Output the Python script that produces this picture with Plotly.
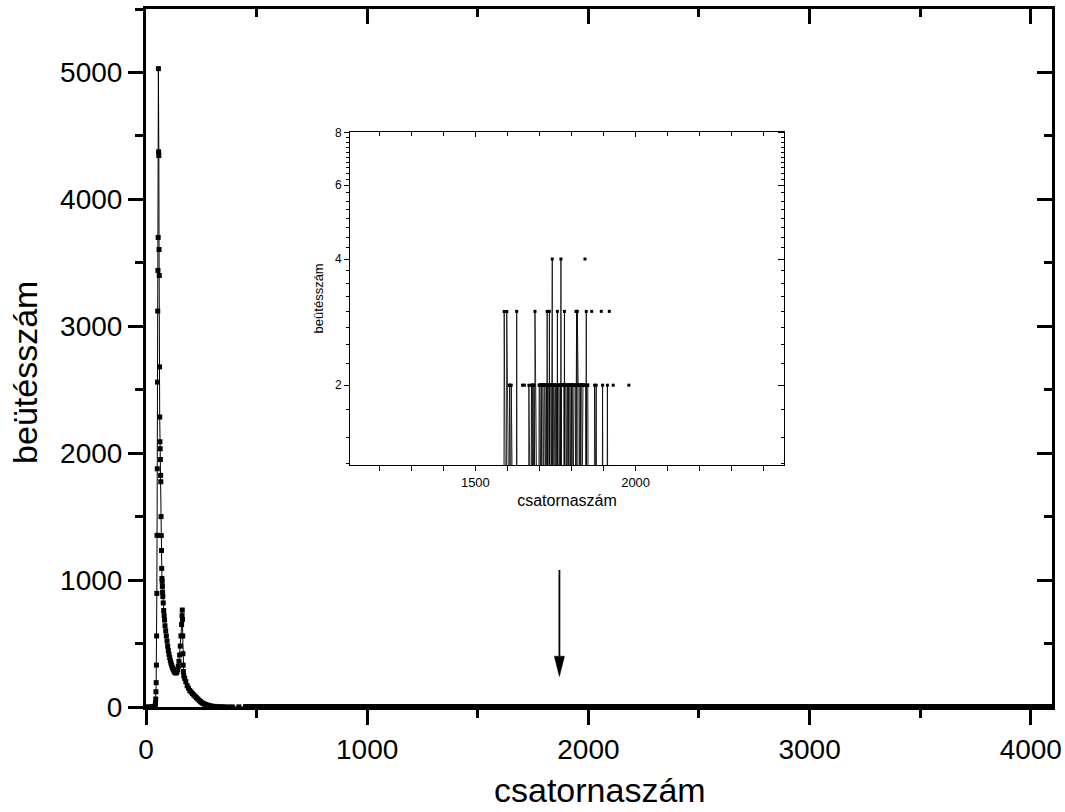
import plotly.graph_objects as go

# ---------------- data ----------------
# main peak region of the spectrum (channel -> counts)
peak_ch = [0, 10, 20, 28, 33, 36, 38, 40, 42, 43, 44, 45, 46, 47, 48, 49, 50, 51, 52,
           53, 54, 55, 56, 57, 58, 59, 60, 61, 62, 63, 64, 65, 66, 67, 68, 69, 70,
           71, 72, 73, 74, 75, 76, 78, 80, 82, 84, 86, 89, 92, 95, 98, 101, 104, 107,
           110, 113, 116, 119, 122, 125, 128, 131, 134, 137, 140, 143, 146, 149, 152,
           155, 158, 161, 163, 164, 165, 166, 167, 168, 169, 171, 175, 180, 186, 192,
           198, 204, 210, 216, 222, 228, 234, 240, 246, 252, 258, 264, 270, 277, 285,
           295, 310, 325, 337, 350, 370, 390, 420, 450]
peak_cnt = [0, 0, 0, 1, 1, 2, 3, 5, 14, 31, 63, 120, 192, 330, 560, 895, 1353, 1877, 2560,
            3120, 3440, 3700, 5030, 4375, 4345, 3605, 3400, 2680, 2285, 2090, 2035, 1950, 1825,
            1775, 1500, 1351, 1233, 1092, 1013, 990, 950, 905, 870, 820, 760, 720, 685, 640,
            600, 560, 520, 480, 445, 415, 390, 365, 345, 328, 312, 300, 290, 280, 272, 268,
            270, 278, 295, 320, 360, 410, 480, 560, 650, 720, 764, 690, 560, 420, 330, 280,
            245, 225, 200, 168, 148, 130, 117, 106, 95, 84, 73, 63, 53, 43, 35, 28, 23, 19,
            16, 12, 8, 5, 3, 2, 2, 1, 1, 1, 0]

# low-count region (used by the inset): one digit per channel, starting at channel 1580
low_start = 1580
low_counts = ("0000000001" "3111111131" "1111112211" "1121111111" "1111111113"
              "1000000000" "0000000200" "0002000000" "0000001211" "1111121212"
              "1212113111" "1111111112" "2212222122" "2212222212" "2221312222"
              "1312222122" "4122212222" "2122213122" "2212221412" "2222222131"
              "2222122221" "2212222122" "2122212222" "2221313132" "2222122212"
              "2221222222" "2040213122" "2210000000" "0003000000" "0121111210"
              "0000000000" "0003001210" "0000000000" "0121000030" "0000000000"
              "2000000000" "0000000000" "0000000000" "0000000000" "0000000002"
              "0000000000")
last_channel = 4095

x_ticks_main = [0, 1000, 2000, 3000, 4000]
y_ticks_main = [0, 1000, 2000, 3000, 4000, 5000]
inset_xticks = [1500, 2000]
inset_yticks = [2, 4, 6, 8]
inset_yminor = [1.3, 1.5, 1.75, 2.25, 2.5, 2.75, 3, 3.25, 3.5, 3.75, 4.25, 4.5, 4.75, 5,
                5.25, 5.5, 5.75, 6.2, 6.4, 6.6, 6.8, 7, 7.2, 7.4, 7.6, 7.8]

# arrow marker (data coordinates)
arrow_ch = 1869
arrow_top = 1080
arrow_tip = 240
arrow_base = 400
arrow_half = 23

# ---------------- build series ----------------
low = {low_start + i: int(c) for i, c in enumerate(low_counts)}
tail_ch = list(range(peak_ch[-1] + 1, last_channel + 1))
main_x = peak_ch + tail_ch
main_y = peak_cnt + [low.get(c, 0) for c in tail_ch]

inset_x = sorted(low.keys())
inset_y = [low[c] if low[c] > 0 else None for c in inset_x]

fig = go.Figure()
fig.add_trace(go.Scatter(
    x=main_x, y=main_y, mode="lines+markers",
    line=dict(color="black", width=1),
    marker=dict(symbol="square", size=5, color="black"),
    cliponaxis=False, xaxis="x", yaxis="y", showlegend=False, hoverinfo="skip"))
fig.add_trace(go.Scatter(
    x=inset_x, y=inset_y, mode="lines+markers", connectgaps=False,
    line=dict(color="black", width=0.8),
    marker=dict(symbol="square", size=3, color="black"),
    xaxis="x2", yaxis="y2", showlegend=False, hoverinfo="skip"))

# invisible traces so that the mirrored (inward-tick) axes are drawn
for xa, ya, yv in [("x3", "y", 0), ("x", "y3", 0), ("x4", "y2", 2), ("x2", "y4", 2)]:
    fig.add_trace(go.Scatter(x=[2000 if xa in ("x2", "x4") else 1000], y=[yv],
                             mode="markers", marker=dict(opacity=0, size=1),
                             xaxis=xa, yaxis=ya, showlegend=False, hoverinfo="skip"))

# arrow
fig.add_shape(type="line", xref="x", yref="y", x0=arrow_ch, x1=arrow_ch,
              y0=arrow_top, y1=arrow_base, line=dict(color="black", width=1.8))
fig.add_shape(type="path", xref="x", yref="y",
              path=f"M {arrow_ch - arrow_half} {arrow_base} L {arrow_ch + arrow_half} {arrow_base} "
                   f"L {arrow_ch} {arrow_tip} Z",
              fillcolor="black", line=dict(color="black", width=0.5))

font = "Arial, Liberation Sans, sans-serif"
main_common = dict(showgrid=False, zeroline=False, showline=True, linewidth=3,
                   linecolor="black", tickwidth=3, tickcolor="black", ticklen=15,
                   automargin=False)
inset_common = dict(showline=True, linewidth=1, linecolor="black", showgrid=False,
                    zeroline=False, tickwidth=1, tickcolor="black", automargin=False)

fig.update_layout(
    width=1065, height=812,
    margin=dict(l=146, r=13, t=9, b=105, autoexpand=False),
    paper_bgcolor="white", plot_bgcolor="white",
    font=dict(family=font, color="black"),
    xaxis=dict(range=[0, 4096], tickvals=x_ticks_main, ticks="outside",
               minor=dict(dtick=500, tick0=0, ticks="outside", ticklen=8, tickwidth=3,
                          tickcolor="black"),
               tickfont=dict(size=28), **main_common),
    yaxis=dict(range=[0, 5500], tickvals=y_ticks_main, ticks="outside",
               minor=dict(dtick=500, tick0=0, ticks="outside", ticklen=8, tickwidth=3,
                          tickcolor="black"),
               tickfont=dict(size=28), **main_common),
    xaxis3=dict(range=[0, 4096], overlaying="x", anchor="y", side="top",
                tickvals=x_ticks_main, ticks="inside", showticklabels=False,
                minor=dict(dtick=500, tick0=0, ticks="inside", ticklen=8, tickwidth=3,
                           tickcolor="black"), **main_common),
    yaxis3=dict(range=[0, 5500], overlaying="y", anchor="x", side="right",
                tickvals=y_ticks_main, ticks="inside", showticklabels=False,
                minor=dict(dtick=500, tick0=0, ticks="inside", ticklen=8, tickwidth=3,
                           tickcolor="black"), **main_common),
    xaxis2=dict(domain=[0.2252, 0.7042], anchor="y2", range=[1109, 2463],
                tickvals=inset_xticks, ticks="outside", ticklen=5,
                minor=dict(dtick=100, tick0=0, ticks="outside", ticklen=5, tickwidth=1,
                           tickcolor="black"),
                tickfont=dict(size=13),
                title=dict(text="csatornaszám", font=dict(size=16), standoff=6),
                **inset_common),
    yaxis2=dict(domain=[0.3467, 0.8242], anchor="x2", type="log",
                range=[0.1106, 0.9058], tickvals=inset_yticks,
                ticktext=[str(v) for v in inset_yticks],
                ticks="outside", ticklen=5,
                minor=dict(tickvals=inset_yminor, ticks="outside", ticklen=3, tickwidth=1,
                           tickcolor="black"),
                tickfont=dict(size=12),
                title=dict(text="beütésszám", font=dict(size=13), standoff=8),
                **inset_common),
    xaxis4=dict(domain=[0.2252, 0.7042], anchor="y2", overlaying="x2", side="top",
                range=[1109, 2463], tickvals=inset_xticks, ticks="inside", ticklen=5,
                showticklabels=False,
                minor=dict(dtick=100, tick0=0, ticks="inside", ticklen=4, tickwidth=1,
                           tickcolor="black"),
                **inset_common),
    yaxis4=dict(domain=[0.3467, 0.8242], anchor="x2", overlaying="y2", side="right",
                type="log", range=[0.1106, 0.9058], tickvals=inset_yticks,
                ticks="inside", ticklen=6, showticklabels=False,
                minor=dict(tickvals=inset_yminor, ticks="inside", ticklen=3, tickwidth=1,
                           tickcolor="black"),
                **inset_common),
    annotations=[
        dict(text="csatornaszám", xref="paper", yref="paper", x=0.501, y=-0.1495,
             xanchor="center", yanchor="bottom", showarrow=False, font=dict(size=34)),
        dict(text="beütésszám", xref="paper", yref="paper", x=-0.1336, y=0.48,
             xanchor="center", yanchor="middle", textangle=-90, showarrow=False,
             font=dict(size=34)),
    ],
)

fig.write_html("out.html",
               config={"displayModeBar": False},
               post_script="document.body.style.margin='0px';"
                           "document.body.style.overflow='hidden';")
